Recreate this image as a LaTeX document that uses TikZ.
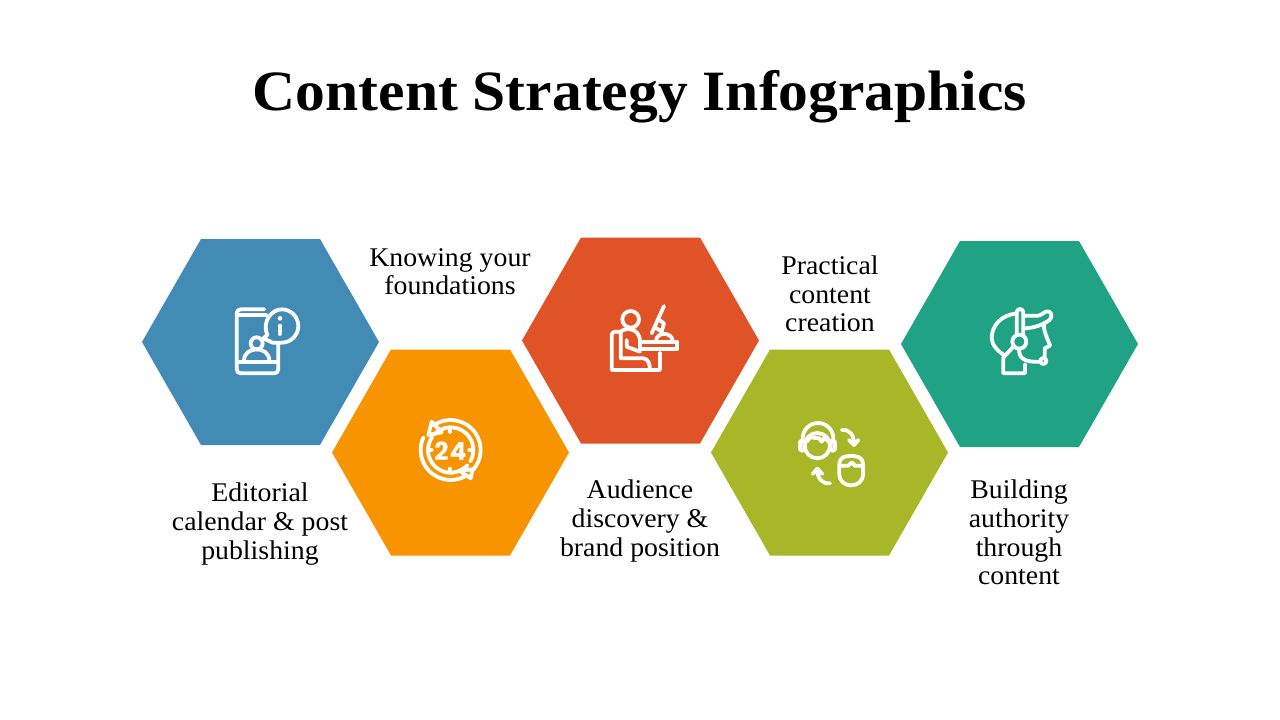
\documentclass[tikz,border=0pt]{standalone}
\usepackage{fontspec}
\setmainfont{Liberation Serif}
\newfontfamily\titlefont[FakeStretch=1.045]{Liberation Serif}
\newfontfamily\bodyfont[FakeStretch=1.03]{Liberation Serif}
\newfontfamily\digitfont[LetterSpace=4]{Poppins}
\tikzset{
  x=1pt,y=-1pt,
  hexa/.style={fill=#1,draw=none},
  label/.style={font=\bodyfont\fontsize{27}{28.6}\selectfont,align=center,text=black,inner sep=0pt},
  ico/.style={draw=white,line width=3.8pt,line cap=round,line join=round},
  icofill/.style={fill=white,draw=none},
}
\definecolor{cblue}{HTML}{428BB5}
\definecolor{corange}{HTML}{F79400}
\definecolor{cred}{HTML}{E05326}
\definecolor{cgreen}{HTML}{A7B728}
\definecolor{cteal}{HTML}{20A385}
\newcommand{\hexagon}[3]{% cx, cy, colour
  \fill[hexa=#3] ({#1-118.5},#2) -- ({#1-59.5},{#2-103}) -- ({#1+59.5},{#2-103}) -- ({#1+118.5},#2) -- ({#1+59.5},{#2+103}) -- ({#1-59.5},{#2+103}) -- cycle;}
\begin{document}
\begin{tikzpicture}
\useasboundingbox (0,0) rectangle (1280,720);
\fill[white] (0,0) rectangle (1280,720);
\node[font=\titlefont\bfseries\fontsize{57}{60}\selectfont,inner sep=0pt] (title) at (640,97) {Content Strategy Infographics};
\hexagon{260.5}{342}{cblue}
\hexagon{450.5}{452.5}{corange}
\hexagon{640.5}{340.5}{cred}
\hexagon{829.5}{452.5}{cgreen}
\hexagon{1019.5}{344}{cteal}
\node[label] (t1) at (450,271.5) {Knowing your\\foundations};
\node[label] (t2) at (260,524) {Editorial\\calendar \& post\\publishing};
\node[label] (t3) at (640,521) {Audience\\discovery \&\\brand position};
\node[label] (t4) at (830,294) {Practical\\content\\creation};
\node[label] (t5) at (1019,532.5) {Building\\authority\\through\\content};
% icon 1
\begin{scope}[shift={(210,290)},x=0.3333pt,y=-0.3333pt]
\draw[ico] (163,58) -- (92,58) arc[start angle=-90,end angle=-180,radius=12] -- (80,238) arc[start angle=180,end angle=90,radius=12] -- (193,250) arc[start angle=90,end angle=0,radius=12] -- (205,158);
\draw[ico] (82,76) -- (168,76);
\draw[ico] (82,215) -- (203,215);
\draw[ico] (172,135) .. controls (155,95) and (185,58) .. (215,58) arc[start angle=-90,end angle=90,radius=50] -- (188,158) -- (160,145) -- (172,135) -- cycle;
\draw[ico] (210,107) -- (210,132);
\fill[icofill] (210,85) circle[radius=7];
\draw[ico] (140,160) circle[radius=18];
\draw[ico] (102,212) .. controls (102,190) and (120,178) .. (140,178) .. controls (160,178) and (178,190) .. (178,212);
\end{scope}
% icon 2
\begin{scope}[shift={(400,400)},x=0.3333pt,y=-0.3333pt]
\draw[ico] (152,150) ++(-125:90) arc[start angle=-125,end angle=42,radius=90];
\draw[ico] (152,150) ++(58:90) arc[start angle=58,end angle=205,radius=90];
\draw[ico] (152,150) ++(-138:68) arc[start angle=-138,end angle=30,radius=68];
\draw[ico] (152,150) ++(42:68) arc[start angle=42,end angle=215,radius=68];
\draw[ico] (95,65) -- (85,105) -- (125,97) -- cycle;
\draw[ico] (212,235) -- (218,208) -- (178,212) -- cycle;
\draw[ico] (150,84) -- (150,96);
\draw[ico] (150,206) -- (150,218);
\draw[ico] (86,150) -- (95,150);
\draw[ico] (208,150) -- (218,150);
\node[font=\digitfont\fontsize{25}{25}\selectfont,text=white,inner sep=0pt] (n24) at (153,154) {\textbf{24}};
\end{scope}
% icon 3
\begin{scope}[shift={(590,290)},x=0.3333pt,y=-0.3333pt]
\draw[ico] (122,88) circle[radius=25];
\draw[ico] (92,125) -- (75,125) arc[start angle=-90,end angle=-180,radius=10] -- (65,240) -- (210,240) -- (210,188);
\draw[ico] (92,125) -- (92,205) -- (160,205) .. controls (175,205) and (180,225) .. (180,240);
\draw[ico] (92,125) .. controls (105,112) and (150,112) .. (150,155) -- (150,178);
\draw[ico] (110,150) -- (110,170) -- (150,185);
\draw[ico] (150,155) -- (260,155) -- (260,178) -- (150,178);
\draw[ico] (222,48) -- (185,130);
\draw[ico] (205,88) -- (222,100) -- (215,125) -- (195,112);
\draw[ico] (198,152) .. controls (200,125) and (245,125) .. (248,152);
\end{scope}
% icon 4
\begin{scope}[shift={(780,400)},x=0.3333pt,y=-0.3333pt]
\draw[ico] (112,137) circle[radius=38];
\draw[ico] (68,115) arc[start angle=180,end angle=360,radius=46];
\draw[ico,rounded corners=2pt] (60,122) rectangle (73,152);
\draw[ico,rounded corners=2pt] (152,122) rectangle (165,152);
\draw[ico] (80,125) -- (90,112) -- (118,115) -- (125,125) -- (135,112) -- (145,125);
\draw[ico] (178,195) .. controls (178,170) and (195,168) .. (213,168) .. controls (232,168) and (249,170) .. (249,195) -- (249,222) .. controls (249,245) and (232,256) .. (213,256) .. controls (195,256) and (178,245) .. (178,222) -- cycle;
\draw[ico] (180,197) -- (205,197) -- (215,187) -- (225,197) -- (247,197);
\draw[ico] (185,90) .. controls (210,88) and (222,105) .. (222,132);
\draw[ico] (207,120) -- (222,135) -- (235,120);
\draw[ico] (150,250) .. controls (125,252) and (112,235) .. (112,208);
\draw[ico] (98,222) -- (112,206) -- (127,222);
\end{scope}
% icon 5
\begin{scope}[shift={(970,295)},x=0.3333pt,y=-0.3333pt]
\draw[ico] (140,55) .. controls (95,60) and (65,90) .. (65,130) .. controls (65,150) and (85,170) .. (105,182);
\draw[ico] (140,118) -- (140,52) arc[start angle=180,end angle=360,radius=10] -- (160,118);
\draw[ico] (160,62) -- (205,62) .. controls (222,58) and (225,45) .. (238,50) .. controls (250,58) and (245,75) .. (228,82) .. controls (205,95) and (180,100) .. (160,100);
\draw[ico] (222,84) .. controls (218,110) and (240,145) .. (240,152) -- (224,160) -- (224,185);
\draw[ico] (148,140) circle[radius=21];
\draw[ico] (130,155) -- (100,188) -- (100,235) -- (165,235) -- (165,208);
\draw[ico] (148,162) .. controls (145,190) and (165,203) .. (210,200);
\draw[ico] (220,198) circle[radius=9];
\end{scope}
\end{tikzpicture}
\end{document}
